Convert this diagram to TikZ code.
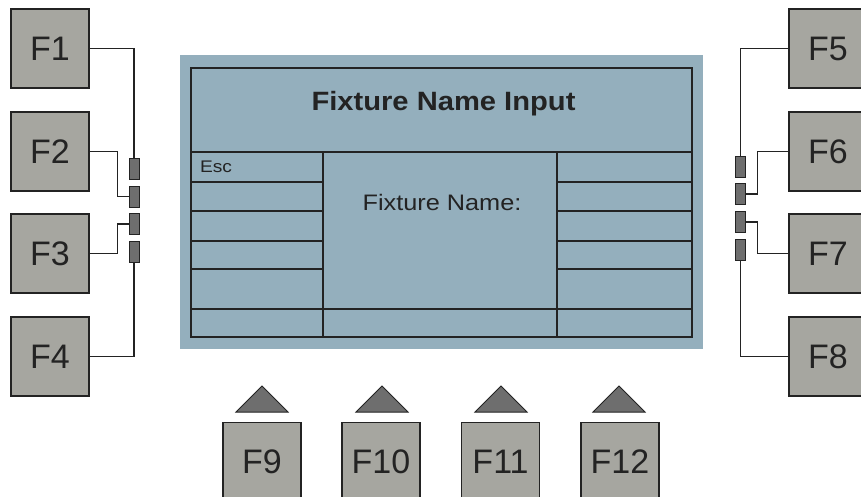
\documentclass[tikz,border=0pt]{standalone}
\usepackage{fontspec}
\setmainfont{Liberation Sans}
\definecolor{keygray}{RGB}{166,166,160}
\definecolor{darkkey}{RGB}{110,110,110}
\definecolor{screenblue}{RGB}{148,175,189}
\definecolor{ink}{RGB}{35,35,35}
\tikzset{
  fkey/.style={draw=ink, line width=1.6pt, fill=keygray, minimum width=78pt, minimum height=79pt, inner sep=0pt, text=ink, font=\fontsize{34}{34}\selectfont},
  pin/.style={draw=ink, line width=1pt, fill=darkkey, minimum width=10pt, minimum height=21pt, inner sep=0pt},
  wire/.style={draw=ink, line width=1.2pt},
  grid/.style={draw=ink, line width=1.6pt},
  tri/.style={draw=ink, line width=1pt, fill=darkkey},
}
\begin{document}
\begin{tikzpicture}[x=1pt,y=-1pt]
\useasboundingbox (0,0) rectangle (861,497);
\clip (0,0) rectangle (861,497);
\fill[white] (0,0) rectangle (861,497);
% screen
\fill[screenblue] (180,55) rectangle (703,349);
\draw[grid] (191,68) rectangle (692,337);
\draw[grid] (191,152) -- (692,152);
\draw[grid] (323,152) -- (323,337);
\draw[grid] (557,152) -- (557,337);
\foreach \yy in {182,211,241,269} {
  \draw[grid] (191,\yy) -- (323,\yy);
  \draw[grid] (557,\yy) -- (692,\yy);
}
\draw[grid] (191,309) -- (692,309);
\node[text=ink, font=\fontsize{26.5}{26.5}\selectfont\bfseries] (title) at (443.5,104) {\scalebox{1.1}[1]{Fixture Name Input}};
\node[text=ink, font=\fontsize{22.4}{22.4}\selectfont] (fname) at (442,202) {\scalebox{1.13}[1]{Fixture Name:}};
\node[text=ink, font=\fontsize{16.8}{16.8}\selectfont] (esc) at (216,167) {\scalebox{1.14}[1]{Esc}};
% left keys
\node[fkey] (F1) at (50,48.5) {F1};
\node[fkey] (F2) at (50,151.5) {F2};
\node[fkey] (F3) at (50,253.5) {F3};
\node[fkey] (F4) at (50,356.5) {F4};
% right keys
\node[fkey] (F5) at (828,48.5) {F5};
\node[fkey] (F6) at (828,151.5) {F6};
\node[fkey] (F7) at (828,253.5) {F7};
\node[fkey] (F8) at (828,356.5) {F8};
% bottom keys
\node[fkey] (F9) at (262,462) {F9};
\node[fkey] (F10) at (381,462) {F10};
\node[fkey] (F11) at (500.5,462) {F11};
\node[fkey] (F12) at (620,462) {F12};
% triangles
\foreach \cx in {262,382,501,619} {
  \draw[tri] (\cx-26,412) -- (\cx,386) -- (\cx+26,412) -- cycle;
}
% left pins
\coordinate (lw) at (117,0);
\draw[wire] (F1.east) -| (134,158) coordinate (p1);
\draw[wire] (F4.east) -| (134,263) coordinate (p4);
\draw[wire] (F2.east) -- ++(28,0) |- (129,196.5);
\draw[wire] (F3.east) -- ++(28,0) |- (129,224);
\node[pin, anchor=north] (s1) at (p1) {};
\node[pin] (s2) at (134,196.5) {};
\node[pin] (s3) at (134,224) {};
\node[pin, anchor=south] (s4) at (p4) {};
% right pins
\draw[wire] (F5.west) -| (740.5,156) coordinate (q1);
\draw[wire] (F8.west) -| (740.5,261) coordinate (q4);
\draw[wire] (F6.west) -- ++(-31,0) |- (745.5,194);
\draw[wire] (F7.west) -- ++(-31,0) |- (745.5,222);
\node[pin, anchor=north] (r1) at (q1) {};
\node[pin] (r2) at (740.5,194) {};
\node[pin] (r3) at (740.5,222) {};
\node[pin, anchor=south] (r4) at (q4) {};
\end{tikzpicture}
\end{document}
